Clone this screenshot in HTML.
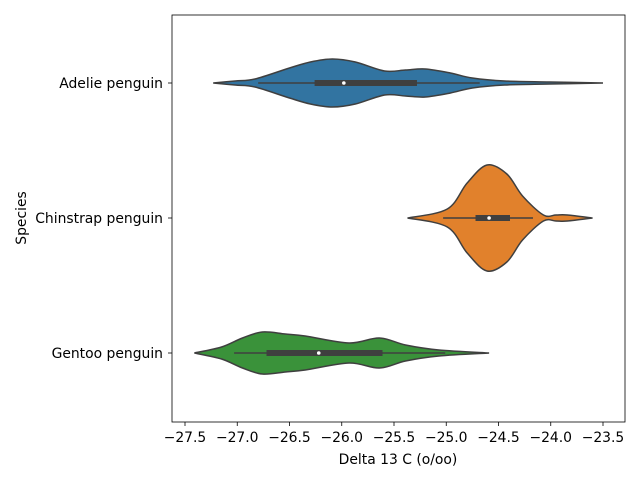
<!DOCTYPE html>
<html><head><meta charset="utf-8"><style>
body{margin:0;background:#fff}
svg{display:block;font-family:"DejaVu Sans","Liberation Sans",sans-serif}
</style></head><body>
<svg id="chart" width="640" height="480" viewBox="0 0 640 480">
<rect width="640" height="480" fill="#fff"/>
<g id="violins"></g>
<g id="axes"></g>
</svg>
<script>
const categories = ["Adelie penguin","Chinstrap penguin","Gentoo penguin"];
const colors = ["#3274a1","#e1812c","#3a923a"];
const adelieX = [-27.23,-27.02,-26.83,-26.50,-26.30,-26.09,-25.87,-25.59,-25.39,-25.20,-24.96,-24.75,-24.44,-24.01,-23.50];
const adelieD = [0,2,4,15,21,24,21,12,13,14,10,5,2,1,0];
const chinX = [-25.37,-24.99,-24.80,-24.61,-24.42,-24.27,-24.07,-23.95,-23.84,-23.60];
const chinD = [0,9,35,53,44,22,3,3,3,0];
const gentooX = [-27.41,-27.15,-26.95,-26.76,-26.54,-26.35,-25.93,-25.64,-25.39,-25.07,-24.59];
const gentooD = [0,6,15,21,19,17,10,15,8,3,0];
const boxQ1 = [-26.26,-24.72,-26.72];
const boxQ3 = [-25.28,-24.39,-25.61];
const medians = [-25.98,-24.59,-26.22];
const whiskLo = [-26.80,-25.03,-27.03];
const whiskHi = [-24.68,-24.17,-25.01];
const xTicks = [-27.5,-27.0,-26.5,-26.0,-25.5,-25.0,-24.5,-24.0,-23.5];
const xTickLabels = ["−27.5","−27.0","−26.5","−26.0","−25.5","−25.0","−24.5","−24.0","−23.5"];

const L=172,R=625,T=15,B=422;
const xs = v => 185 + (v+27.5)*104.5;
const ys = i => 83 + i*135;
const NS="http://www.w3.org/2000/svg";
function mk(tag, attrs, parent){const e=document.createElementNS(NS,tag);for(const k in attrs)e.setAttribute(k,attrs[k]);parent.appendChild(e);return e;}
function smooth(pts){
  let d=`M${pts[0][0]},${pts[0][1]}`;
  for(let i=0;i<pts.length-1;i++){
    const p0=pts[Math.max(0,i-1)],p1=pts[i],p2=pts[i+1],p3=pts[Math.min(pts.length-1,i+2)];
    const c1=[p1[0]+(p2[0]-p0[0])/6,p1[1]+(p2[1]-p0[1])/6];
    const c2=[p2[0]-(p3[0]-p1[0])/6,p2[1]-(p3[1]-p1[1])/6];
    d+=`C${c1[0]},${c1[1]} ${c2[0]},${c2[1]} ${p2[0]},${p2[1]}`;
  }
  return d;
}
const vg=document.getElementById('violins');
const series=[[adelieX,adelieD],[chinX,chinD],[gentooX,gentooD]];
series.forEach((s,i)=>{
  const cy=ys(i);
  const top=s[0].map((v,j)=>[xs(v),cy-s[1][j]]);
  const bot=s[0].map((v,j)=>[xs(v),cy+s[1][j]]).reverse();
  const d=smooth(top)+smooth(bot).replace(/^M/,'L')+'Z';
  const p=mk('path',{d:d,fill:colors[i],stroke:'#3f3f3f','stroke-width':1.5},vg);
  
  
  const w=mk('line',{x1:xs(whiskLo[i]),x2:xs(whiskHi[i]),y1:cy,y2:cy,stroke:'#3f3f3f','stroke-width':1.5},vg);
  
  
  const b=mk('rect',{x:xs(boxQ1[i]),y:cy-3,width:xs(boxQ3[i])-xs(boxQ1[i]),height:6,fill:'#3f3f3f'},vg);
  
  
  const m=mk('circle',{cx:xs(medians[i]),cy:cy,r:1.8,fill:'#fff'},vg);
  
  
});
const ag=document.getElementById('axes');
const fr=mk('rect',{x:L,y:T,width:R-L,height:B-T,fill:'none',stroke:'#000','stroke-width':0.8},ag);


xTicks.forEach((v,i)=>{
  const x=xs(v);
  mk('line',{x1:x,x2:x,y1:B,y2:B+4,stroke:'#000','stroke-width':0.8},ag);
  const t=mk('text',{x:x,y:B+20,'text-anchor':'middle','font-size':13.9,fill:'#000'},ag);
  t.textContent=xTickLabels[i];
  
  
});
categories.forEach((c,i)=>{
  const y=ys(i);
  mk('line',{x1:L-4,x2:L,y1:y,y2:y,stroke:'#000','stroke-width':0.8},ag);
  const t=mk('text',{x:L-9,y:y+5,'text-anchor':'end','font-size':13.9,fill:'#000'},ag);
  t.textContent=c;
  
  
});
const xl=mk('text',{x:398,y:464,'text-anchor':'middle','font-size':13.9,fill:'#000'},ag);
xl.textContent='Delta 13 C (o/oo)';


const yl=mk('text',{x:0,y:0,'text-anchor':'middle','font-size':13.9,fill:'#000',transform:'translate(26,218) rotate(-90)'},ag);
yl.textContent='Species';


</script>
</body></html>
